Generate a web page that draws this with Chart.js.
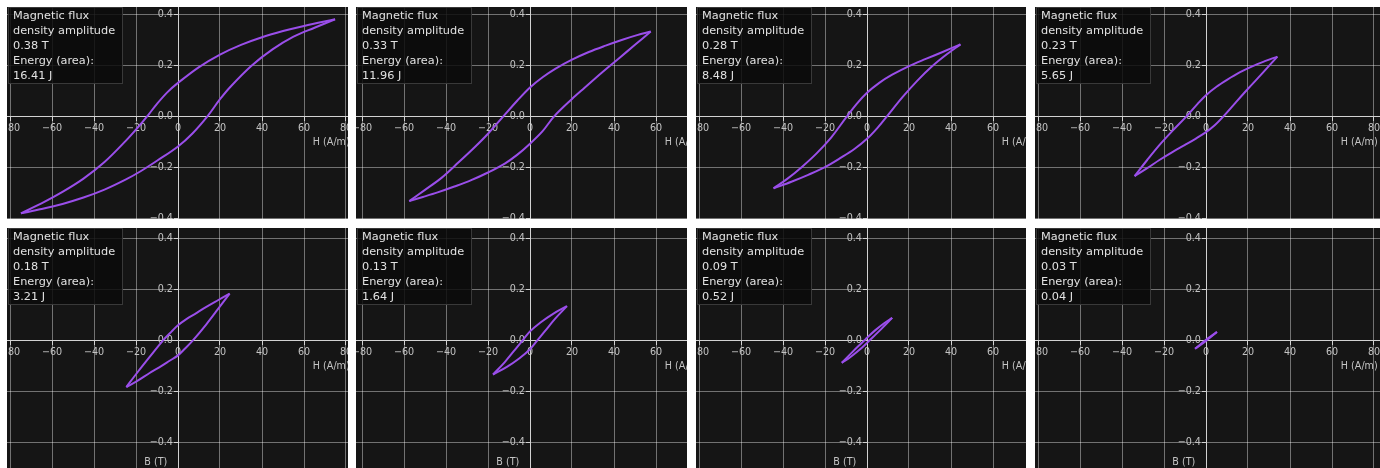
<!DOCTYPE html>
<html>
<head>
<meta charset="utf-8">
<script src="https://cdn.jsdelivr.net/npm/chart.js@4.4.1/dist/chart.umd.min.js"></script>
<style>
  html, body { margin: 0; padding: 0; background: #ffffff; }
  body { position: relative; width: 1380px; height: 468px; overflow: hidden; font-family: "DejaVu Sans", sans-serif; }
  .panel { position: absolute; overflow: hidden; background: #151515; }
  .panel canvas { position: absolute; }
  .note {
    position: absolute; left: 1px; top: 0; width: 106px;
    padding: 0 3px 0 4px;
    background: rgba(10, 10, 10, 0.85);
    border: 1px solid rgba(70, 70, 70, 0.8);
    color: #e2e2e2; font-size: 11.3px; line-height: 15px; white-space: pre;
  }
</style>
</head>
<body>
<script>
// Axis ticks and names
const hTicks = [-80, -60, -40, -20, 0, 20, 40, 60, 80];
const bTicks = [-0.4, -0.2, 0, 0.2, 0.4];
const hName = 'H (A/m)';
const bName = 'B (T)';

// Hysteresis energy (loop area) for each excitation level
const energyJ = [16.41, 11.96, 8.48, 5.65, 3.21, 1.64, 0.52, 0.04];

// Upper branch of each loop (field H in A/m, flux density B in T), ascending H
const upperH = [
  [-74.8, -65, -55, -45, -35, -25, -18, -14, -10, -5, 0, 10, 20, 30, 40, 50, 60, 74.8],
  [-57.5, -50, -42, -34, -26, -20, -12.7, -6, 0, 6, 12, 20, 28, 36, 44, 51, 57.5],
  [-44.5, -38, -31, -24, -17, -10, -5, 0, 6, 12, 20, 28, 36, 44.5],
  [-34, -28, -22, -16, -9.3, -4, 0, 5, 10, 16, 22, 28, 34],
  [-24.6, -19, -13.5, -7.1, -3, 0, 4, 8, 13.5, 19, 24.6],
  [-17.6, -12, -7, -3.5, 0, 5, 11, 17.6],
  [-12, -7, -3, -1.2, 0, 4, 8, 12],
  [-5.2, 0, 5.2]
];
const upperB = [
  [-0.38, -0.341, -0.296, -0.244, -0.179, -0.097, -0.033, 0.007, 0.049, 0.095, 0.131, 0.193, 0.242, 0.28, 0.31, 0.334, 0.354, 0.38],
  [-0.332, -0.288, -0.24, -0.18, -0.118, -0.068, 0, 0.062, 0.113, 0.153, 0.186, 0.222, 0.252, 0.277, 0.3, 0.318, 0.332],
  [-0.282, -0.245, -0.198, -0.145, -0.082, -0.005, 0.048, 0.092, 0.132, 0.163, 0.197, 0.225, 0.252, 0.282],
  [-0.234, -0.171, -0.111, -0.057, 0, 0.049, 0.083, 0.116, 0.143, 0.172, 0.196, 0.216, 0.234],
  [-0.183, -0.122, -0.065, 0, 0.035, 0.059, 0.083, 0.103, 0.131, 0.157, 0.183],
  [-0.134, -0.085, -0.035, 0, 0.035, 0.07, 0.104, 0.134],
  [-0.088, -0.046, -0.014, 0, 0.01, 0.04, 0.066, 0.088],
  [-0.033, 0.002, 0.033]
];

// Lower branch of each loop, ascending H
const lowerH = [
  [-74.8, -65, -55, -45, -35, -25, -18, -10, 0, 7, 14, 20, 25, 35, 45, 55, 65, 74.8],
  [-57.5, -51, -44, -36, -28, -20, -12, -6, 0, 6, 11.5, 20, 26, 34, 42, 50, 57.5],
  [-44.5, -36, -28, -20, -12, -6, 0, 5, 9.5, 17, 24, 31, 38, 44.5],
  [-34, -28, -22, -16, -10, -5, 0, 4, 8.3, 14, 20, 27, 34],
  [-24.6, -19, -13.5, -8, -4, 0, 3, 7.1, 13.5, 19, 24.6],
  [-17.6, -11, -5, 0, 3.5, 7, 12, 17.6],
  [-12, -8, -4, 0, 1.2, 3, 7, 12],
  [-5.2, 0, 5.2]
];
const lowerB = [
  [-0.38, -0.363, -0.343, -0.318, -0.287, -0.248, -0.216, -0.174, -0.118, -0.066, 0, 0.067, 0.116, 0.198, 0.262, 0.312, 0.347, 0.38],
  [-0.332, -0.316, -0.298, -0.275, -0.25, -0.22, -0.185, -0.15, -0.107, -0.058, 0, 0.068, 0.112, 0.17, 0.225, 0.28, 0.332],
  [-0.282, -0.256, -0.229, -0.199, -0.16, -0.128, -0.088, -0.045, 0, 0.076, 0.14, 0.196, 0.243, 0.282],
  [-0.234, -0.203, -0.17, -0.14, -0.112, -0.088, -0.062, -0.036, 0, 0.053, 0.108, 0.17, 0.234],
  [-0.183, -0.157, -0.128, -0.101, -0.08, -0.059, -0.035, 0, 0.063, 0.122, 0.183],
  [-0.134, -0.104, -0.07, -0.035, 0, 0.035, 0.085, 0.134],
  [-0.088, -0.066, -0.04, -0.01, 0, 0.014, 0.046, 0.088],
  [-0.033, -0.002, 0.033]
];

// Page layout: 2 rows x 4 columns of clipped panels
const colLeft = [7, 356, 696, 1035];
const colWidth = [341, 331, 330, 345];
const colCanvasLeft = [2, 354, 691, 1030];
const rowTop = [7, 228];
const rowHeight = [212, 240];
const rowCanvasTop = [4, 228];
const CANVAS_W = 352, CANVAS_H = 240;
const H_LIMIT = 176 / 2.1;
const B_MIN = -0.5, B_MAX = 0.44;

const LOOP_COLOR = '#9a4eea';
const GRID_COLOR = 'rgba(255,255,255,0.40)';
const AXIS_COLOR = '#d2d2d2';
const TICK_TEXT = '#c4c4c4';
const smallFont = { family: 'DejaVu Sans', size: 9.6 };

function signed(v, digits) {
  const s = Math.abs(v).toFixed(digits);
  return v < -1e-9 ? '\u2212' + s : s;
}

const noPadding = s => { s.paddingLeft = 0; s.paddingRight = 0; s.paddingTop = 0; s.paddingBottom = 0; };

const axisNames = {
  id: 'axisNames',
  afterDraw(chart) {
    const { ctx, scales: { x, y } } = chart;
    ctx.save();
    ctx.font = '9.6px "DejaVu Sans"';
    ctx.fillStyle = TICK_TEXT;
    ctx.textBaseline = 'middle';
    ctx.textAlign = 'left';
    ctx.fillText(hName, x.getPixelForValue(64.2), y.getPixelForValue(-0.101));
    ctx.textAlign = 'center';
    ctx.fillText(bName, x.getPixelForValue(-10.6), y.getPixelForValue(-0.478));
    ctx.restore();
  }
};

function branch(H, B) {
  return H.map((h, k) => ({ x: h, y: B[k] }));
}

for (let i = 0; i < 8; i++) {
  const row = Math.floor(i / 4), col = i % 4;
  const panel = document.createElement('div');
  panel.className = 'panel';
  panel.style.left = colLeft[col] + 'px';
  panel.style.top = rowTop[row] + 'px';
  panel.style.width = colWidth[col] + 'px';
  panel.style.height = rowHeight[row] + 'px';

  const canvas = document.createElement('canvas');
  canvas.width = CANVAS_W;
  canvas.height = CANVAS_H;
  canvas.style.left = (colCanvasLeft[col] - colLeft[col]) + 'px';
  canvas.style.top = (rowCanvasTop[row] - rowTop[row]) + 'px';
  panel.appendChild(canvas);

  const amplitude = Math.max(...upperB[i]);
  const note = document.createElement('div');
  note.className = 'note';
  note.textContent = 'Magnetic flux\ndensity amplitude\n' + amplitude.toFixed(2) + ' T\nEnergy (area):\n' + energyJ[i].toFixed(2) + ' J';
  panel.appendChild(note);
  document.body.appendChild(panel);

  const loopStyle = {
    showLine: true,
    borderColor: LOOP_COLOR,
    backgroundColor: LOOP_COLOR,
    borderWidth: 2,
    pointRadius: 0,
    tension: 0.35,
    yAxisID: 'y'
  };

  new Chart(canvas, {
    type: 'scatter',
    data: {
      datasets: [
        Object.assign({ data: branch(upperH[i], upperB[i]) }, loopStyle),
        Object.assign({ data: branch(lowerH[i], lowerB[i]) }, loopStyle)
      ]
    },
    options: {
      responsive: false,
      animation: false,
      devicePixelRatio: 1,
      events: [],
      layout: { padding: 0 },
      plugins: { legend: { display: false }, tooltip: { enabled: false } },
      scales: {
        x: {
          type: 'linear',
          min: -H_LIMIT,
          max: H_LIMIT,
          position: { y: 0 },
          afterBuildTicks: s => { s.ticks = hTicks.map(v => ({ value: v })); },
          afterFit: noPadding,
          ticks: {
            autoSkip: false, maxRotation: 0, padding: 2,
            color: TICK_TEXT, font: smallFont,
            callback: v => signed(v, 0)
          },
          grid: { color: GRID_COLOR, lineWidth: 1, tickLength: 4, tickColor: AXIS_COLOR },
          border: { color: AXIS_COLOR, width: 1 }
        },
        // B axis line, grid and tick marks at H = 0
        y: {
          type: 'linear',
          min: B_MIN,
          max: B_MAX,
          position: { x: 0 },
          afterBuildTicks: s => { s.ticks = bTicks.map(v => ({ value: v })); },
          afterFit: noPadding,
          ticks: { display: false },
          grid: { color: GRID_COLOR, lineWidth: 1, tickLength: 4, tickColor: AXIS_COLOR },
          border: { color: AXIS_COLOR, width: 1 }
        },
        // B tick labels, set just left of the B axis line
        yLabels: {
          type: 'linear',
          axis: 'y',
          min: B_MIN,
          max: B_MAX,
          position: { x: -2.4 },
          afterBuildTicks: s => { s.ticks = bTicks.map(v => ({ value: v })); },
          afterFit: noPadding,
          ticks: {
            autoSkip: false, padding: 0,
            color: TICK_TEXT, font: smallFont,
            callback: v => signed(v, 1)
          },
          grid: { display: false, drawTicks: false, tickLength: 0 },
          border: { display: false }
        }
      }
    },
    plugins: [axisNames]
  });
}
</script>
</body>
</html>
